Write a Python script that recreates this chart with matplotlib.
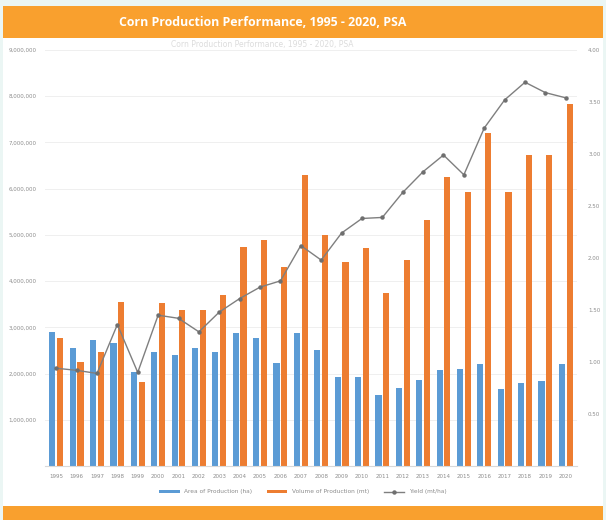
import matplotlib
matplotlib.use("Agg")
import matplotlib.pyplot as plt
from matplotlib.patches import Rectangle
import numpy as np

years = [str(y) for y in range(1995, 2021)]
area_ha = [2.90, 2.55, 2.73, 2.66, 2.03, 2.47, 2.40, 2.55, 2.47, 2.88, 2.77, 2.23, 2.88,
           2.51, 1.93, 1.93, 1.54, 1.69, 1.86, 2.08, 2.10, 2.21, 1.67, 1.80, 1.84, 2.21]
volume_mt = [2.77, 2.25, 2.47, 3.55, 1.82, 3.53, 3.38, 3.38, 3.70, 4.74, 4.89, 4.31, 6.30,
             5.00, 4.41, 4.72, 3.74, 4.46, 5.32, 6.25, 5.93, 7.20, 5.93, 6.73, 6.73, 7.83]
yield_mtha = [0.94, 0.92, 0.89, 1.36, 0.90, 1.45, 1.42, 1.29, 1.48, 1.61, 1.72, 1.78, 2.12,
              1.98, 2.24, 2.38, 2.39, 2.63, 2.83, 2.99, 2.80, 3.25, 3.52, 3.69, 3.59, 3.54]
left_ticks = [1e6, 2e6, 3e6, 4e6, 5e6, 6e6, 7e6, 8e6, 9e6]
right_ticks = [0.5, 1.0, 1.5, 2.0, 2.5, 3.0, 3.5, 4.0]

title = "Corn Production Performance, 1995 - 2020, PSA"
legend_labels = ["Area of Production (ha)", "Volume of Production (mt)", "Yield (mt/ha)"]

W, H = 606, 520
fig = plt.figure(figsize=(W / 100, H / 100), dpi=100)
fig.patch.set_facecolor("#ebf6f4")

def frect(x0, y0, x1, y1, color):
    fig.patches.append(Rectangle((x0 / W, 1 - y1 / H), (x1 - x0) / W, (y1 - y0) / H,
                                 transform=fig.transFigure, facecolor=color,
                                 edgecolor="none", zorder=-10))

ORANGE_BAND = "#f9a02e"
frect(3, 38, 603, 506, "white")
frect(3, 6, 603, 38, ORANGE_BAND)
frect(3, 506, 603, 520, ORANGE_BAND)

fig.text(263 / W, 1 - 22 / H, title, ha="center", va="center", color="white",
         fontsize=8.9, fontweight="bold", family="Open Sans")
fig.text(262 / W, 1 - 44 / H, title, ha="center", va="center", color="#dcdcdc",
         fontsize=5.5, family="DejaVu Sans")

ax = fig.add_axes([45 / W, 1 - 466 / H, (577 - 45) / W, (466 - 50) / H])
ax.set_facecolor("none")
x = np.arange(len(years))
BLUE = "#5b9bd5"
ORANGE = "#ed7d31"
bw = 0.3
ax.bar(x - 0.19, [a * 1e6 for a in area_ha], width=bw, color=BLUE, zorder=2,
       label=legend_labels[0])
ax.bar(x + 0.19, [v * 1e6 for v in volume_mt], width=bw, color=ORANGE, zorder=2,
       label=legend_labels[1])
ax.set_ylim(0, 9e6)
ax.set_xlim(-0.55, len(years) - 0.45)
ax.set_yticks(left_ticks)
ax.set_yticklabels([f"{int(t):,}" for t in left_ticks])
ax.set_xticks(x)
ax.set_xticklabels(years)
ax.grid(axis="y", color="#efefef", linewidth=0.7, zorder=0)
ax.set_axisbelow(True)
for s in ["top", "right", "left"]:
    ax.spines[s].set_visible(False)
ax.spines["bottom"].set_color("#d9d9d9")
ax.tick_params(axis="both", length=0, labelsize=4, colors="#8c8c8c")
ax.tick_params(axis="y", pad=6)
ax.tick_params(axis="x", pad=6)

ax2 = ax.twinx()
ax2.plot(x, yield_mtha, color="#7f7f7f", linewidth=1.0, marker="o", markersize=2.2,
         markerfacecolor="#6f6f6f", markeredgecolor="#6f6f6f", zorder=3,
         label=legend_labels[2])
ax2.set_ylim(0, 4.0)
ax2.set_yticks(right_ticks)
ax2.set_yticklabels([f"{t:.2f}" for t in right_ticks])
for s in ["top", "right", "left", "bottom"]:
    ax2.spines[s].set_visible(False)
ax2.tick_params(axis="y", length=0, labelsize=4, colors="#8c8c8c", pad=8)

h1, l1 = ax.get_legend_handles_labels()
h2, l2 = ax2.get_legend_handles_labels()
fig.legend(h1 + h2, l1 + l2, loc="center", bbox_to_anchor=(0.5, 1 - 492 / H), ncol=3,
           frameon=False, fontsize=4.2, handlelength=3.5, handleheight=0.4,
           columnspacing=2.5, labelcolor="#8c8c8c")

fig.savefig("out.png", dpi=100, facecolor=fig.get_facecolor())
